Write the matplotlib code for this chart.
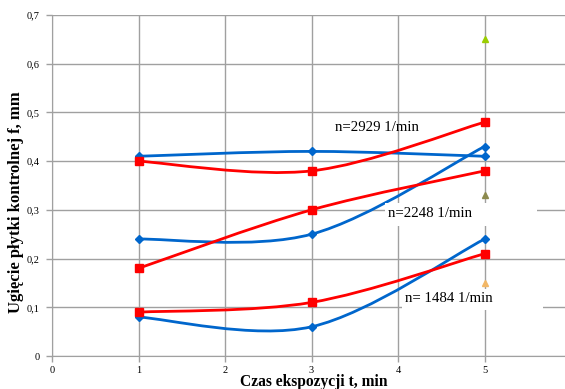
import matplotlib
matplotlib.use("Agg")
import matplotlib.pyplot as plt
from matplotlib.path import Path
from matplotlib.patches import PathPatch, Rectangle

plt.rcParams['font.family'] = ['Liberation Serif', 'DejaVu Serif']

# exposure time, min
t = [1, 3, 5]

# deflection of the control plate, mm
blue_top = [0.41, 0.42, 0.41]
blue_mid = [0.24, 0.25, 0.43]
blue_low = [0.08, 0.06, 0.24]
red_top = [0.40, 0.38, 0.48]
red_mid = [0.18, 0.30, 0.38]
red_low = [0.09, 0.11, 0.21]

# single points at t = 5
tri_t = [5, 5, 5]
tri_f = [0.65, 0.33, 0.15]
tri_colors = ['#9acd00', '#8c8a4e', '#f2b766']

labels = ['n=2929 1/min', 'n=2248 1/min', 'n= 1484 1/min']

BLUE = '#0066cc'
RED = '#ff0000'
GRID = '#a0a0a0'


def smooth_path(xs, ys):
    # Bezier segments like a spreadsheet "smoothed line" (Catmull-Rom, 1/6 tension)
    px = [xs[0]] + list(xs) + [xs[-1]]
    py = [ys[0]] + list(ys) + [ys[-1]]
    verts = [(xs[0], ys[0])]
    codes = [Path.MOVETO]
    for i in range(1, len(px) - 2):
        c1 = (px[i] + (px[i + 1] - px[i - 1]) / 6, py[i] + (py[i + 1] - py[i - 1]) / 6)
        c2 = (px[i + 1] - (px[i + 2] - px[i]) / 6, py[i + 1] - (py[i + 2] - py[i]) / 6)
        verts += [c1, c2, (px[i + 1], py[i + 1])]
        codes += [Path.CURVE4] * 3
    return Path(verts, codes)


fig = plt.figure(figsize=(5.65, 3.89), dpi=100)
ax = fig.add_axes([52 / 565, 33 / 389, 1 - 52 / 565, 341 / 389])

ax.set_xlim(0, 513 / 86.5)
ax.set_ylim(0, 0.7)
ax.set_xticks([0, 1, 2, 3, 4, 5])
ax.set_yticks([0, 0.1, 0.2, 0.3, 0.4, 0.5, 0.6, 0.7])
ax.set_yticklabels(['0', '0,1', '0,2', '0,3', '0,4', '0,5', '0,6', '0,7'], fontsize=7.5)
ax.set_xticklabels(['0', '1', '2', '3', '4', '5'], fontsize=7.5)
ax.grid(True, color=GRID, linewidth=1.0)
ax.set_axisbelow(True)
for s in ['top', 'right']:
    ax.spines[s].set_visible(False)
for s in ['left', 'bottom']:
    ax.spines[s].set_color(GRID)
ax.tick_params(axis='both', color=GRID, length=4, width=1.0)
ax.tick_params(axis='y', pad=5)
ax.tick_params(axis='x', pad=3)

for ys, col, mk, ms in [(blue_top, BLUE, 'D', 4), (blue_mid, BLUE, 'D', 4), (blue_low, BLUE, 'D', 4),
                        (red_top, RED, 's', 6), (red_mid, RED, 's', 6), (red_low, RED, 's', 6)]:
    ax.add_patch(PathPatch(smooth_path(t, ys), facecolor='none', edgecolor=col,
                           linewidth=2.0, zorder=3))
    ax.plot(t, ys, linestyle='none', marker=mk, color=col, markersize=ms, zorder=4)

for x, y, c in zip(tri_t, tri_f, tri_colors):
    ax.plot(x, y, linestyle='none', marker='^', color=c, markersize=5, zorder=4)

# white boxes behind the lower two speed labels
ax.add_patch(Rectangle((3.85, 0.267), 1.76, 0.047, facecolor='white', edgecolor='none', zorder=5))
ax.add_patch(Rectangle((4.05, 0.094), 1.63, 0.044, facecolor='white', edgecolor='none', zorder=5))

ax.text(3.27, 0.470, labels[0], fontsize=10.7, va='center', ha='left', zorder=6)
ax.text(3.88, 0.2935, labels[1], fontsize=10.7, va='center', ha='left', zorder=6)
ax.text(4.08, 0.119, labels[2], fontsize=10.7, va='center', ha='left', zorder=6)

fig.text(314 / 565, 1 - 382 / 389, 'Czas ekspozycji t, min', fontsize=11.2,
         fontweight='bold', ha='center', va='center')
fig.text(16 / 565, 1 - 202 / 389, 'Ugięcie płytki kontrolnej f, mm', fontsize=12,
         fontweight='bold', ha='center', va='center', rotation=90)

fig.savefig('out.png', dpi=100)
